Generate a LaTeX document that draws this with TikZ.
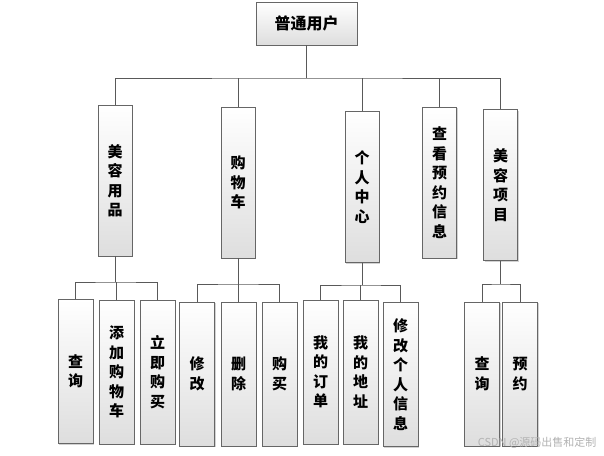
\documentclass[tikz,border=0pt]{standalone}
\usepackage{fontspec}
\newfontfamily\cjk{Noto Sans CJK SC}
\usetikzlibrary{shadows}
\begin{document}
\begin{tikzpicture}[x=1pt,y=-1pt,
  box/.style={draw=black!60, line width=0.8pt, top color=white, bottom color=black!13,
    drop shadow={shadow xshift=1.3pt,shadow yshift=-1.3pt,fill=black!35,opacity=0.5},
    inner sep=0pt, align=center, font=\cjk\bfseries\fontsize{15}{19.5}\selectfont},
  rootbox/.style={box, minimum width=101pt, minimum height=43pt, font=\cjk\bfseries\fontsize{16}{19}\selectfont},
  Lone/.style={box, minimum width=34pt, minimum height=151pt},
  Ltwo/.style={box, minimum width=35pt, minimum height=144pt},
  link/.style={draw=black!65, line width=0.8pt}]
\useasboundingbox (0,0) rectangle (604,455);

% root
\node[rootbox] (root) at (306.5,23.5) {普通用户};

% level 1
\node[Lone] (c1) at (115,180.5) {美\\容\\用\\品};
\node[Lone] (c2) at (238,182.5) {购\\物\\车};
\node[Lone] (c3) at (362,187) {个\\人\\中\\心};
\node[Lone] (c4) at (439.5,182.5) {查\\看\\预\\约\\信\\息};
\node[Lone] (c5) at (500.5,185) {美\\容\\项\\目};

% level 2 - 美容用品
\node[Ltwo] (a1) at (75.5,371.5) {查\\询};
\node[Ltwo] (a2) at (116.5,372) {添\\加\\购\\物\\车};
\node[Ltwo] (a3) at (157.5,372) {立\\即\\购\\买};
% 购物车
\node[Ltwo] (b1) at (197,374) {修\\改};
\node[Ltwo] (b2) at (238.5,374) {删\\除};
\node[Ltwo] (b3) at (279.5,374) {购\\买};
% 个人中心
\node[Ltwo] (d1) at (320.5,372) {我\\的\\订\\单};
\node[Ltwo] (d2) at (360.5,372) {我\\的\\地\\址};
\node[Ltwo] (d3) at (400.5,374.5) {修\\改\\个\\人\\信\\息};
% 美容项目
\node[Ltwo] (e1) at (482,374) {查\\询};
\node[Ltwo] (e2) at (520,374) {预\\约};

% connectors level 0-1
\coordinate (r0) at (306.5,78);
\draw[link] (root.south) -- (r0);
\draw[link] (c1.north) |- (r0) -| (c5.north);
\draw[link] (c2.north) -- (c2.north |- r0);
\draw[link] (c3.north) -- (c3.north |- r0);
\draw[link] (c4.north) -- (c4.north |- r0);

% connectors level 1-2
\coordinate (ja) at (115,282);
\draw[link] (c1.south) -- (ja);
\draw[link] (a1.north) |- (ja) -| (a3.north);
\draw[link] (a2.north) -- (a2.north |- ja);

\coordinate (jb) at (238,284);
\draw[link] (c2.south) -- (jb);
\draw[link] (b1.north) |- (jb) -| (b3.north);
\draw[link] (b2.north) -- (b2.north |- jb);

\coordinate (jd) at (362,285);
\draw[link] (c3.south) -- (jd);
\draw[link] (d1.north) |- (jd) -| (d3.north);
\draw[link] (d2.north) -- (d2.north |- jd);

\coordinate (je) at (500.5,284);
\draw[link] (c5.south) -- (je);
\draw[link] (e1.north) |- (je) -| (e2.north);

% watermark
\node[text=black!30, font=\cjk\fontsize{11}{13}\selectfont, anchor=east] (wm) at (600,443) {CSDN @源码出售和定制};
\end{tikzpicture}
\end{document}
